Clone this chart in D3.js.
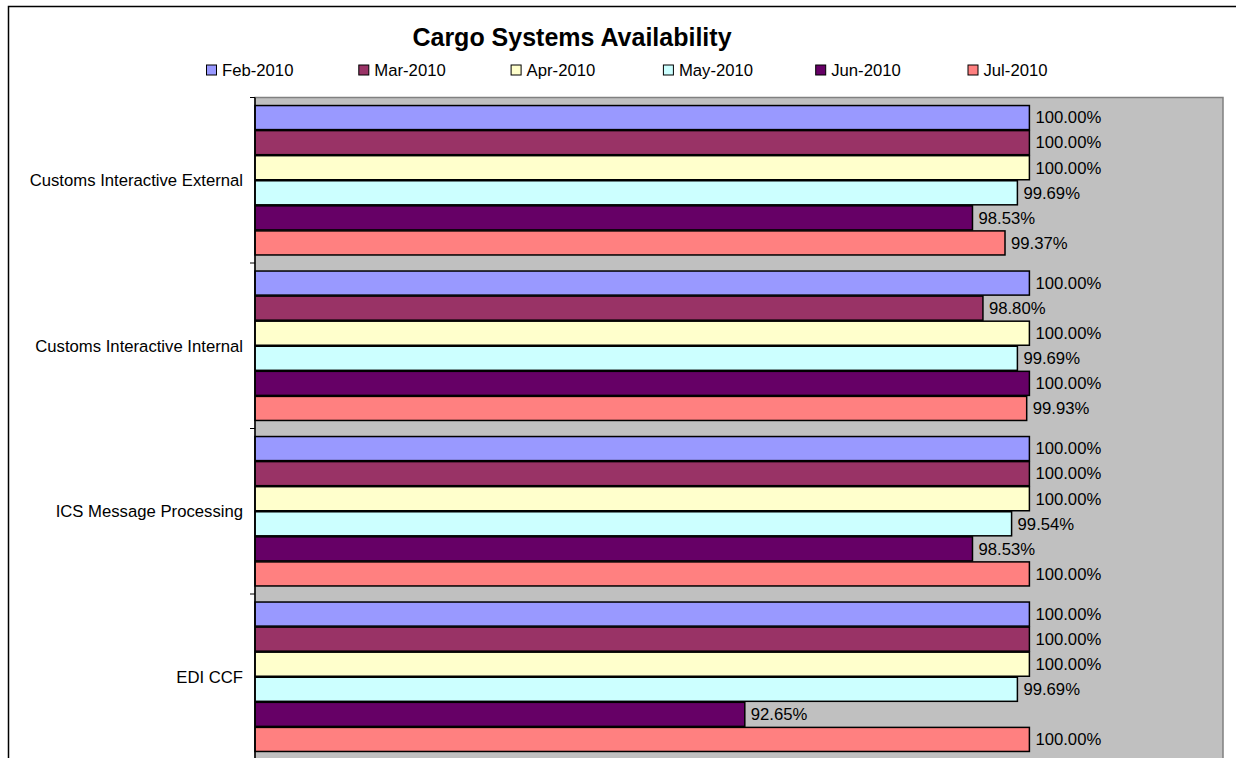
<!DOCTYPE html>
<html>
<head>
<meta charset="utf-8">
<script src="https://cdn.jsdelivr.net/npm/d3@7"></script>
<style>
  body { margin: 0; background: #fff; }
  text { font-family: Arial, "Liberation Sans", sans-serif; }
</style>
</head>
<body>
<script>
// chart data
var systems = ["Customs Interactive External", "Customs Interactive Internal", "ICS Message Processing", "EDI CCF"];
var months = ["Feb-2010", "Mar-2010", "Apr-2010", "May-2010", "Jun-2010", "Jul-2010"];
var colors = ["#9999FF", "#993366", "#FFFFCC", "#CCFFFF", "#660066", "#FF8080"];
var extValues = [1.0, 1.0, 1.0, 0.9969, 0.9853, 0.9937];
var intValues = [1.0, 0.9880, 1.0, 0.9969, 1.0, 0.9993];
var icsValues = [1.0, 1.0, 1.0, 0.9954, 0.9853, 1.0];
var ediValues = [1.0, 1.0, 1.0, 0.9969, 0.9265, 1.0];
var allValues = [extValues, intValues, icsValues, ediValues];

function draw() {
    var width = 1236, height = 758;
    var svg = d3.select("body")
        .append("svg")
        .attr("width", width)
        .attr("height", height);

    // outer chart frame
    svg.append("rect")
        .attr("x", 8.5).attr("y", 6.5)
        .attr("width", 1300).attr("height", 800)
        .attr("fill", "#fff")
        .attr("stroke", "#000")
        .attr("stroke-width", 1.5);

    var left = 255, right = 1223, top = 97.5, bottom = 759.5;

    var x = d3.scaleLinear().domain([0.80, 1.05]).range([left, right]);
    var y = d3.scaleBand().domain(systems).range([top, bottom]).paddingInner(0.085).paddingOuter(0.0425);
    var yGroup = d3.scaleBand().domain(systems).range([top, bottom]);
    var y1 = d3.scaleBand().domain(months).range([0, y.bandwidth()]).padding(0.04);
    var color = d3.scaleOrdinal().domain(months).range(colors);

    svg.append("rect")
        .attr("x", left).attr("y", top)
        .attr("width", right - left).attr("height", bottom - top)
        .attr("fill", "#C0C0C0")
        .attr("stroke", "#808080")
        .attr("stroke-width", 1.5);

    var groups = svg.append("g")
        .selectAll("g")
        .data(systems)
        .enter().append("g")
        .attr("transform", function(d) { return "translate(0," + y(d) + ")"; });

    groups.selectAll("rect")
        .data(function(d, i) {
            return months.map(function(m, j) { return {month: m, value: allValues[i][j]}; });
        })
        .enter().append("rect")
        .attr("x", x(0.80))
        .attr("y", function(d) { return y1(d.month); })
        .attr("width", function(d) { return x(d.value) - x(0.80); })
        .attr("height", y1.bandwidth())
        .attr("fill", function(d) { return color(d.month); })
        .attr("stroke", "#000")
        .attr("stroke-width", 1.5);

    groups.selectAll("text")
        .data(function(d, i) {
            return months.map(function(m, j) { return {month: m, value: allValues[i][j]}; });
        })
        .enter().append("text")
        .attr("x", function(d) { return x(d.value) + 6; })
        .attr("y", function(d) { return y1(d.month) + y1.bandwidth() / 2; })
        .attr("dy", "0.35em")
        .style("font-size", "16.7px")
        .attr("fill", "#000")
        .text(function(d) { return d3.format(".2%")(d.value); });

    // category axis
    var axis = svg.append("g")
        .attr("transform", "translate(" + left + ",0)");
    axis.append("line")
        .attr("x1", 0).attr("x2", 0)
        .attr("y1", top).attr("y2", bottom)
        .attr("stroke", "#000").attr("stroke-width", 1.5);
    axis.selectAll("line.tick")
        .data(systems.concat(["end"]))
        .enter().append("line")
        .attr("class", "tick")
        .attr("x1", -5).attr("x2", 0)
        .attr("y1", function(d, i) { return i < systems.length ? yGroup(d) : bottom; })
        .attr("y2", function(d, i) { return i < systems.length ? yGroup(d) : bottom; })
        .attr("stroke", "#000");
    axis.selectAll("text")
        .data(systems)
        .enter().append("text")
        .attr("x", -12)
        .attr("y", function(d) { return yGroup(d) + yGroup.bandwidth() / 2; })
        .attr("dy", "0.35em")
        .attr("text-anchor", "end")
        .style("font-size", "16.7px")
        .text(function(d) { return d; });

    // title
    svg.append("text")
        .attr("x", 572).attr("y", 46)
        .attr("text-anchor", "middle")
        .style("font-size", "25px")
        .style("font-weight", "bold")
        .text("Cargo Systems Availability");

    // legend
    var legend = svg.append("g")
        .selectAll("g")
        .data(months)
        .enter().append("g")
        .attr("transform", function(d, i) { return "translate(" + (206 + i * 152.3) + ",70)"; });
    legend.append("rect")
        .attr("x", 0.5).attr("y", -5)
        .attr("width", 10).attr("height", 10)
        .attr("fill", function(d) { return color(d); })
        .attr("stroke", "#000");
    legend.append("text")
        .attr("x", 16).attr("y", 0)
        .attr("dy", "0.35em")
        .style("font-size", "16.7px")
        .text(function(d) { return d; });
}

draw();
</script>
</body>
</html>
